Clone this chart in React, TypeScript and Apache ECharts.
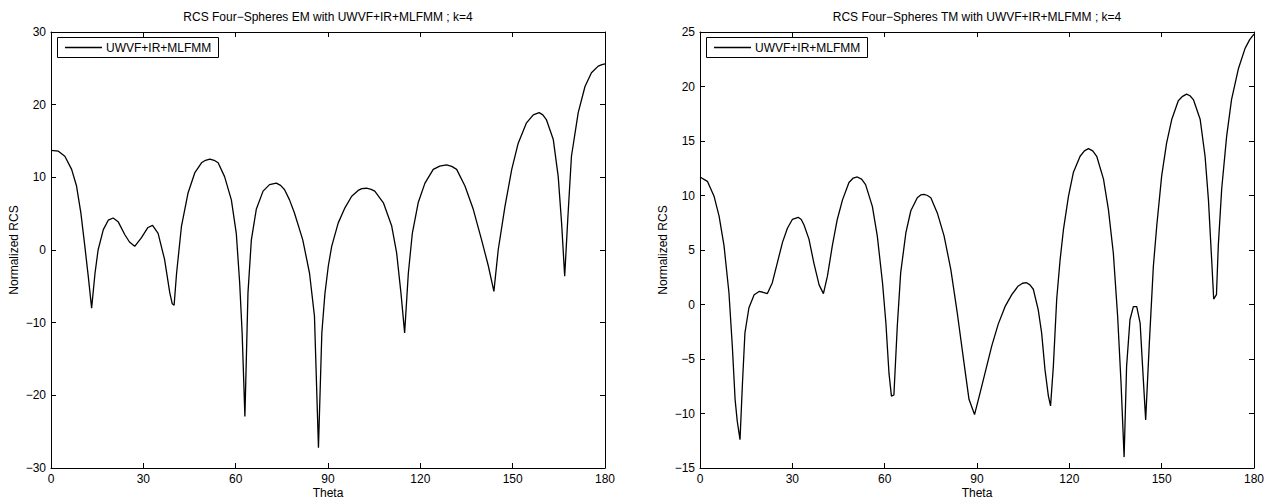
import React, { useEffect, useRef } from "react";
import * as echarts from "echarts";

const emTitle = "RCS Four\u2212Spheres EM with UWVF+IR+MLFMM ; k=4";
const tmTitle = "RCS Four\u2212Spheres TM with UWVF+IR+MLFMM ; k=4";
const seriesName = "UWVF+IR+MLFMM";
const xLabel = "Theta";
const yLabel = "Normalized RCS";

const emTheta = [0,2.4,4.5,6.7,8.3,9.7,11,12.1,13.2,14.3,15.3,17,18.6,20.2,21.8,24,25.5,27.2,29.4,31.5,33,34.8,36.9,38.6,39.4,40,40.8,42.4,44.5,46.7,48.9,50.2,51.6,53,54.3,56.4,58.6,60.2,61.3,62.1,63,64,65.1,66.7,68.9,71,73.2,74.6,75.9,77.5,79.1,81.8,84,85.6,86.9,88,89,90.1,91.2,93.3,95.5,97.7,99.8,101,102.5,104,105.2,108,110.7,112.3,113.7,114.9,116.1,117.4,119.3,121.5,124.2,126.3,128.5,130.2,131.8,134.5,137.2,139.9,142.1,143.9,145.3,147.5,149.7,151.8,154.5,156.7,158.6,159.8,161,163.2,164.8,165.9,166.9,167.9,169.1,171.3,173.5,175.6,177.8,179,180];
const emRcs = [13.7,13.6,12.9,11.1,8.8,5.1,0.5,-3.6,-8.0,-3.2,0.0,2.8,4.1,4.4,3.9,2.1,1.1,0.5,1.7,3.1,3.4,2.3,-1.3,-5.9,-7.4,-7.6,-3.2,3.3,7.8,10.6,12.0,12.35,12.5,12.35,12.0,10.1,6.9,2.3,-4.5,-11.4,-22.9,-5.9,1.4,5.6,8.1,9.0,9.2,8.9,8.3,6.9,5.1,1.4,-3.2,-9.1,-27.2,-11.4,-6.0,-2.2,0.5,3.7,5.8,7.4,8.2,8.45,8.5,8.35,8.1,6.5,3.3,-0.4,-5.9,-11.4,-3.2,2.3,6.5,9.2,11.1,11.55,11.7,11.5,11.1,8.8,5.6,1.4,-2.2,-5.7,0.0,6.0,11.1,14.7,17.5,18.6,18.9,18.6,17.9,15.2,10.1,3.7,-3.6,4.2,12.9,18.9,22.5,24.4,25.3,25.5,25.6];

const tmTheta = [0,2.4,4.6,6.2,7.8,9.4,10.5,11.4,12.1,13,13.8,14.6,15.9,17.6,19.2,20.8,21.9,23.5,25.1,26.8,28.4,30,31.9,32.9,33.8,35.4,37,38.7,40.1,41.4,43,44.6,46.3,48.4,49.8,51.1,52.5,53.8,56,57.6,59.3,60.4,61.4,62.2,63,64.1,65.2,66.9,68.5,70.6,71.7,72.8,73.9,75,77.1,79.3,81.5,83.6,85.8,87.4,89.2,91,92.6,94.8,96.9,99.1,101.3,103.4,104.8,106.1,107.2,108.3,109.9,111,112.1,113.2,113.9,114.8,115.9,117,118.1,119.7,121.3,123.5,124.9,126.2,127.6,128.9,131.1,132.7,134.3,135.7,136.8,137.8,138.6,139.7,140.8,141.9,143,143.8,144.8,146,147.3,148.4,150,151.6,153.3,155.4,156.8,158.1,159.2,160.3,162.5,164.1,165.2,166.3,166.9,167.8,168.4,169.5,171.1,172.7,174.9,177.1,178.6,180];
const tmRcs = [11.7,11.3,9.9,8.1,5.4,1.1,-3.8,-8.7,-10.7,-12.4,-7.2,-2.6,-0.3,0.9,1.2,1.1,1.0,2.0,3.8,5.7,7.0,7.8,8.0,7.8,7.3,6.0,3.8,1.8,1.0,2.6,5.4,7.8,9.6,11.2,11.6,11.7,11.5,11.0,9.0,6.3,2.0,-1.7,-6.3,-8.4,-8.3,-2.0,2.9,6.6,8.6,9.8,10.05,10.1,10.0,9.8,8.4,6.3,3.2,-0.8,-5.4,-8.7,-10.1,-8.1,-6.3,-3.8,-1.8,-0.2,0.9,1.7,1.95,2.0,1.8,1.4,-0.5,-2.6,-6.0,-8.4,-9.3,-5.7,0.5,4.1,6.9,9.9,12.1,13.6,14.1,14.3,14.1,13.6,11.5,8.7,4.7,-1.1,-7.2,-14.0,-5.7,-1.4,-0.2,-0.2,-1.7,-5.7,-10.6,-3.5,3.5,7.2,11.8,14.8,17.0,18.7,19.1,19.3,19.15,18.8,17.0,13.6,9.6,3.8,0.5,0.9,5.4,10.6,15.4,18.8,21.6,23.5,24.3,24.8];

const xRange = { min: 0, max: 180, interval: 30 };
const emY = { min: -30, max: 30, interval: 10 };
const tmY = { min: -15, max: 25, interval: 5 };

const FONT = "'Liberation Sans', Arial, Helvetica, sans-serif";
const fmt = (v: number) => String(v).replace("-", "\u2212");

export default function App() {
  const ref = useRef<HTMLDivElement>(null);
  useEffect(() => {
    if (!ref.current) return;
    const chart = echarts.init(ref.current, undefined, { renderer: "svg" });
    const grids = [
      { left: 51, top: 32, width: 554, height: 436 },
      { left: 700, top: 32, width: 554, height: 436 },
    ];
    const lineStyle = { color: "#000", width: 1 };
    const axisLine = { show: true, onZero: false, lineStyle };
    const tick = { show: true, inside: true, length: 5, lineStyle };
    const label = { color: "#000", fontSize: 12, fontFamily: FONT, formatter: fmt };
    const xAxes: any[] = [];
    const yAxes: any[] = [];
    const ys = [emY, tmY];
    [0, 1].forEach((g) => {
      xAxes.push({
        type: "value", gridIndex: g, position: "bottom", ...xRange,
        axisLine, axisTick: tick, splitLine: { show: false },
        axisLabel: { ...label, margin: 5 },
      });
      xAxes.push({
        type: "value", gridIndex: g, position: "top", ...xRange,
        axisLine, axisTick: tick, splitLine: { show: false },
        axisLabel: { show: false },
      });
      yAxes.push({
        type: "value", gridIndex: g, position: "left", ...ys[g],
        axisLine, axisTick: tick, splitLine: { show: false },
        axisLabel: { ...label, margin: 5 },
      });
      yAxes.push({
        type: "value", gridIndex: g, position: "right", ...ys[g],
        axisLine, axisTick: tick, splitLine: { show: false },
        axisLabel: { show: false },
      });
    });
    const mk = (th: number[], v: number[]) => th.map((t, i) => [t, v[i]]);
    const series: any[] = [
      { type: "line", name: seriesName, xAxisIndex: 0, yAxisIndex: 0, data: mk(emTheta, emRcs),
        showSymbol: false, symbol: "none", lineStyle: { color: "#000", width: 1.3 }, clip: true },
      { type: "line", name: seriesName, xAxisIndex: 2, yAxisIndex: 2, data: mk(tmTheta, tmRcs),
        showSymbol: false, symbol: "none", lineStyle: { color: "#000", width: 1.3 }, clip: true },
    ];
    const textStyle = (extra: any) => ({ fill: "#000", fontSize: 12, fontFamily: FONT, ...extra });
    const graphic: any[] = [];
    const titles = [emTitle, tmTitle];
    grids.forEach((gr, g) => {
      const cx = gr.left + gr.width / 2;
      graphic.push({ type: "text", x: cx, y: 17, style: textStyle({ text: titles[g], align: "center", verticalAlign: "middle" }) });
      graphic.push({ type: "text", x: cx, y: 493, style: textStyle({ text: xLabel, align: "center", verticalAlign: "middle" }) });
      graphic.push({ type: "text", x: gr.left - 37, y: gr.top + gr.height / 2, rotation: Math.PI / 2,
        style: textStyle({ text: yLabel, align: "center", verticalAlign: "middle" }) });
      const lx = gr.left + 6, ly = 37;
      graphic.push({ type: "rect", shape: { x: lx + 0.5, y: ly + 0.5, width: 161, height: 20 },
        style: { fill: "#fff", stroke: "#000", lineWidth: 1 }, z: 100 });
      graphic.push({ type: "line", shape: { x1: lx + 8, y1: ly + 10.5, x2: lx + 45, y2: ly + 10.5 },
        style: { stroke: "#000", lineWidth: 1.3 }, z: 101 });
      graphic.push({ type: "text", x: lx + 49, y: ly + 11, z: 101,
        style: textStyle({ text: seriesName, align: "left", verticalAlign: "middle" }) });
    });
    chart.setOption({
      animation: false,
      backgroundColor: "#fff",
      grid: grids,
      xAxis: xAxes,
      yAxis: yAxes,
      series,
      graphic,
    });
    return () => chart.dispose();
  }, []);
  return <div ref={ref} style={{ position: "absolute", left: 0, top: 0, width: 1273, height: 504 }} />;
}
